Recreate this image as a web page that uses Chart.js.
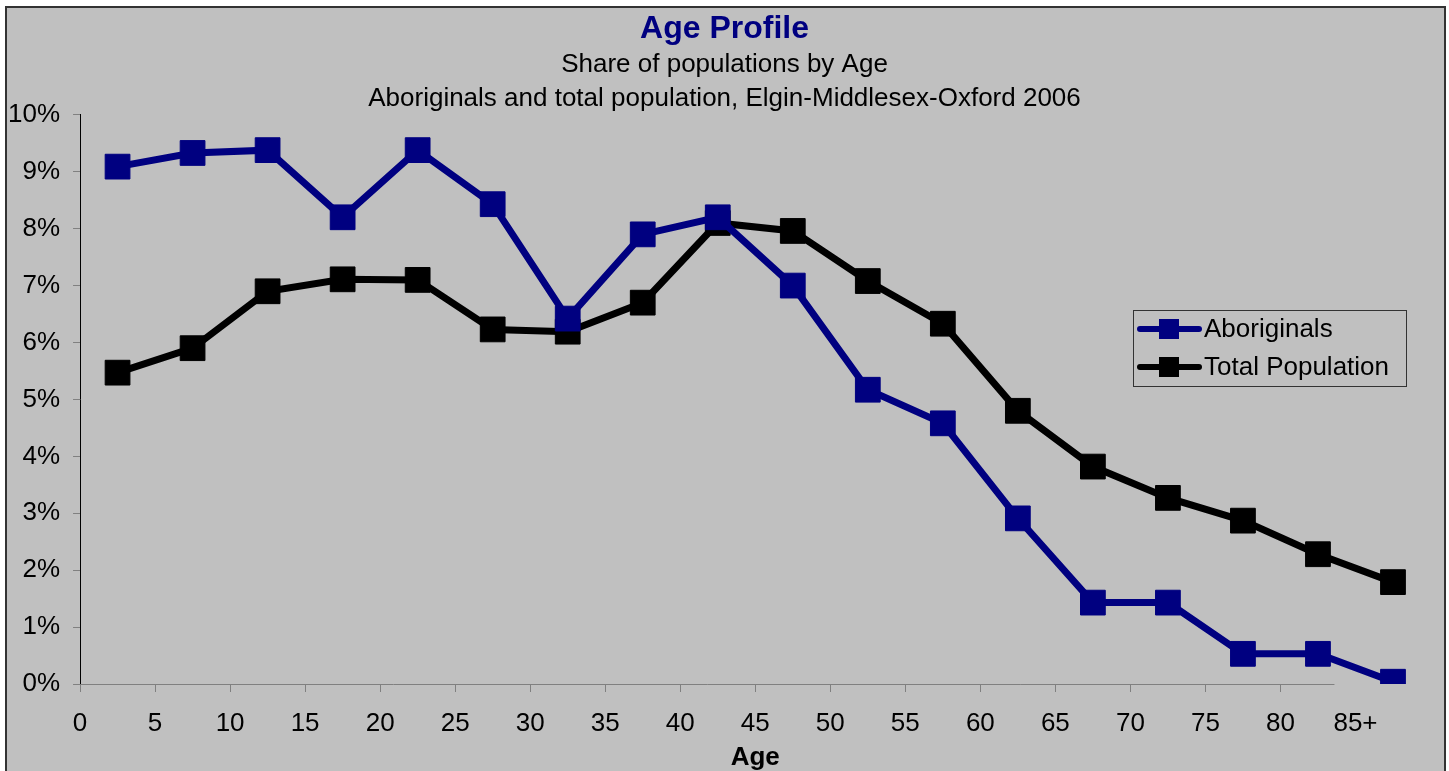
<!DOCTYPE html>
<html>
<head>
<meta charset="utf-8">
<script src="https://cdn.jsdelivr.net/npm/chart.js@4"></script>
<style>
    html, body { margin: 0; padding: 0; background: #ffffff; }
    #wrap { width: 1449px; height: 771px; position: relative; }
</style>
</head>
<body>
<div id="wrap"><canvas id="ageChart"></canvas></div>
<script>
// midpoints of the 5-year age groups
const ageMidpoints = [2.5, 7.5, 12.5, 17.5, 22.5, 27.5, 32.5, 37.5, 42.5, 47.5, 52.5, 57.5, 62.5, 67.5, 72.5, 77.5, 82.5, 87.5];
const aboriginals = [9.09, 9.33, 9.38, 8.20, 9.38, 8.43, 6.42, 7.90, 8.20, 7.00, 5.17, 4.58, 2.91, 1.43, 1.43, 0.53, 0.53, 0.04];
const totalPopulation = [5.47, 5.90, 6.90, 7.11, 7.10, 6.23, 6.19, 6.70, 8.10, 7.96, 7.08, 6.33, 4.80, 3.82, 3.27, 2.87, 2.28, 1.79];
const seriesNames = ['Aboriginals', 'Total Population'];
const xTickLabels = { 85: '85+' };
const xLastTick = 85;
const xAxisEnd = 83.6;
const xAxisMax = 90;

const FONT = 'Arial, "Liberation Sans", sans-serif';

function toPoints(values) {
    return values.map((v, i) => ({ x: ageMidpoints[i], y: v }));
}

// grey panel with the dark frame
const backgroundPlugin = {
    id: 'panel',
    beforeDraw(chart) {
        const ctx = chart.ctx;
        ctx.save();
        ctx.fillStyle = '#c0c0c0';
        ctx.fillRect(6, 7, 1439, 770);
        ctx.strokeStyle = '#333333';
        ctx.lineWidth = 2;
        ctx.beginPath();
        ctx.moveTo(6, 775);
        ctx.lineTo(6, 7);
        ctx.lineTo(1445, 7);
        ctx.lineTo(1445, 775);
        ctx.stroke();
        ctx.restore();
    }
};

// x axis line stops short of the 85+ label, like the original
const xAxisLinePlugin = {
    id: 'xAxisLine',
    afterDraw(chart) {
        const ctx = chart.ctx;
        const x = chart.scales.x, y = chart.scales.y;
        const py = Math.round(y.getPixelForValue(0)) + 0.5;
        ctx.save();
        ctx.strokeStyle = '#808080';
        ctx.lineWidth = 1;
        ctx.beginPath();
        ctx.moveTo(x.getPixelForValue(0), py);
        ctx.lineTo(x.getPixelForValue(xAxisEnd), py);
        ctx.stroke();
        ctx.restore();
    }
};

// boxed legend sitting inside the plot
const boxLegendPlugin = {
    id: 'boxLegend',
    afterDraw(chart) {
        const ctx = chart.ctx;
        const left = 1133, top = 310, w = 273, h = 76;
        ctx.save();
        ctx.strokeStyle = '#333333';
        ctx.lineWidth = 1;
        ctx.strokeRect(left + 0.5, top + 0.5, w, h);
        chart.data.datasets.forEach((ds, i) => {
            const cy = top + 19 + i * 38;
            ctx.strokeStyle = ds.borderColor;
            ctx.lineWidth = 6;
            ctx.lineCap = 'round';
            ctx.beginPath();
            ctx.moveTo(1140, cy);
            ctx.lineTo(1199, cy);
            ctx.stroke();
            ctx.fillStyle = ds.backgroundColor;
            ctx.fillRect(1159, cy - 10, 20, 20);
            ctx.fillStyle = '#000000';
            ctx.font = '26px ' + FONT;
            ctx.textBaseline = 'middle';
            ctx.textAlign = 'left';
            ctx.fillText(ds.label, 1204, cy + 1);
        });
        ctx.restore();
    }
};

new Chart(document.getElementById('ageChart').getContext('2d'), {
    type: 'line',
    data: {
        datasets: [{
            label: seriesNames[0],
            data: toPoints(aboriginals),
            borderColor: '#000080',
            backgroundColor: '#000080',
            borderWidth: 7,
            pointStyle: 'rect',
            pointRadius: 17.5,
            pointBorderWidth: 1,
            pointHoverRadius: 17.5
        }, {
            label: seriesNames[1],
            data: toPoints(totalPopulation),
            borderColor: '#000000',
            backgroundColor: '#000000',
            borderWidth: 7,
            pointStyle: 'rect',
            pointRadius: 17.5,
            pointBorderWidth: 1,
            pointHoverRadius: 17.5
        }]
    },
    options: {
        responsive: true,
        maintainAspectRatio: false,
        animation: false,
        layout: { padding: { left: -5, right: -5, top: 0, bottom: 0 } },
        plugins: {
            legend: { display: false },
            tooltip: { enabled: false },
            title: {
                display: true,
                text: 'Age Profile',
                color: '#000080',
                font: { family: FONT, size: 32, weight: 'bold', lineHeight: 1.15 },
                padding: { top: 11, bottom: 1 }
            },
            subtitle: {
                display: true,
                text: ['Share of populations by Age', 'Aboriginals and total population, Elgin-Middlesex-Oxford 2006'],
                color: '#000000',
                font: { family: FONT, size: 26, lineHeight: 1.27 },
                padding: { top: 0, bottom: 0 }
            }
        },
        scales: {
            x: {
                type: 'linear',
                min: 0,
                max: xAxisMax,
                afterBuildTicks: scale => {
                    scale.ticks = scale.ticks.filter(t => t.value % 5 === 0 && t.value <= xLastTick);
                },
                border: { display: false },
                grid: {
                    drawOnChartArea: false,
                    drawTicks: true,
                    tickLength: 8,
                    color: ctx => (ctx.tick && ctx.tick.value >= xLastTick) ? 'rgba(0,0,0,0)' : '#808080'
                },
                ticks: {
                    stepSize: 5,
                    autoSkip: false,
                    maxRotation: 0,
                    color: '#000000',
                    padding: 19,
                    font: { family: FONT, size: 26, lineHeight: 1.0 },
                    callback: v => (v in xTickLabels) ? xTickLabels[v] : String(v)
                },
                title: {
                    display: true,
                    text: 'Age',
                    color: '#000000',
                    font: { family: FONT, size: 26, weight: 'bold', lineHeight: 1.0 },
                    padding: { top: -11, bottom: 0 }
                }
            },
            y: {
                min: 0,
                max: 10,
                border: { display: true, color: '#000000', width: 1 },
                grid: {
                    drawOnChartArea: false,
                    drawTicks: true,
                    tickLength: 7,
                    color: '#808080'
                },
                ticks: {
                    stepSize: 1,
                    color: '#000000',
                    padding: 13,
                    font: { family: FONT, size: 26 },
                    callback: v => Math.round(v) + '%'
                }
            }
        }
    },
    plugins: [backgroundPlugin, xAxisLinePlugin, boxLegendPlugin]
});
</script>
</body>
</html>
